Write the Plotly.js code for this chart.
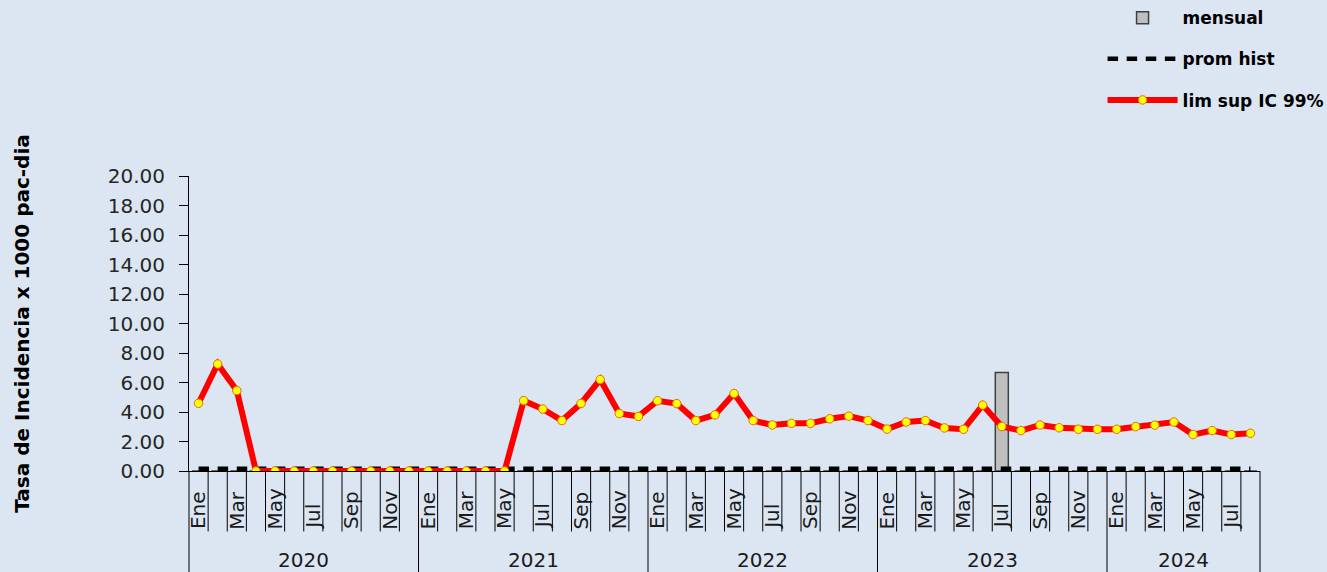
<!DOCTYPE html>
<html>
<head>
<meta charset="utf-8">
<script src="https://cdn.plot.ly/plotly-3.0.1.min.js"></script>
<style>
  html, body { margin: 0; padding: 0; background: #dce6f2; }
  #chart { width: 1327px; height: 572px; }
</style>
</head>
<body>
<div id="chart"></div>
<script>
// ---- data ----
const years = ["2020", "2021", "2022", "2023", "2024"];
const monthsPerYear = [12, 12, 12, 12, 8];
const monthNames = ["Ene", "Feb", "Mar", "Abr", "May", "Jun", "Jul", "Ago", "Sep", "Oct", "Nov", "Dic"];
const shownMonths = ["Ene", "Mar", "May", "Jul", "Sep", "Nov"];

const mensual = [
  0, 0, 0, 0, 0, 0, 0, 0, 0, 0, 0, 0,
  0, 0, 0, 0, 0, 0, 0, 0, 0, 0, 0, 0,
  0, 0, 0, 0, 0, 0, 0, 0, 0, 0, 0, 0,
  0, 0, 0, 0, 0, 0, 6.67, 0, 0, 0, 0, 0,
  0, 0, 0, 0, 0, 0, 0, 0
];
const promHist = [
  0.15, 0.15, 0.15, 0.15, 0.15, 0.15, 0.15, 0.15, 0.15, 0.15, 0.15, 0.15,
  0.15, 0.15, 0.15, 0.15, 0.15, 0.15, 0.15, 0.15, 0.15, 0.15, 0.15, 0.15,
  0.15, 0.15, 0.15, 0.15, 0.15, 0.15, 0.15, 0.15, 0.15, 0.15, 0.15, 0.15,
  0.15, 0.15, 0.15, 0.15, 0.15, 0.15, 0.15, 0.15, 0.15, 0.15, 0.15, 0.15,
  0.15, 0.15, 0.15, 0.15, 0.15, 0.15, 0.15, 0.15
];
const limSup = [
  4.59, 7.25, 5.45, 0, 0, 0, 0, 0, 0, 0, 0, 0,
  0, 0, 0, 0, 0, 4.77, 4.20, 3.42, 4.58, 6.20, 3.90, 3.70,
  4.76, 4.57, 3.42, 3.80, 5.25, 3.42, 3.12, 3.23, 3.23, 3.54, 3.72, 3.42,
  2.84, 3.32, 3.42, 2.92, 2.83, 4.47, 3.02, 2.74, 3.12, 2.93, 2.83, 2.83,
  2.83, 3.01, 3.11, 3.32, 2.47, 2.74, 2.47, 2.56
];

// ---- build category positions ----
const xIdx = [], monthLabel = [], yearStart = [];
let k = 0;
years.forEach((y, yi) => {
  yearStart.push(k);
  for (let m = 0; m < monthsPerYear[yi]; m++) {
    xIdx.push(k);
    monthLabel.push(monthNames[m]);
    k++;
  }
});
const nCat = k;

const WIDE = "'DejaVu Sans', Verdana, sans-serif";
const BG = "#dce6f2";

const traces = [
  {
    type: "bar", name: "mensual", x: xIdx, y: mensual,
    marker: { color: "#bfbfbf", line: { color: "#404040", width: 1.5 } },
    legendgroup: "g1", hoverinfo: "skip"
  },
  {
    type: "scatter", mode: "lines", name: "prom hist", x: xIdx, y: promHist,
    line: { color: "#000000", width: 4.5, dash: "10.5px,8.6px" },
    legendgroup: "g2", hoverinfo: "skip"
  },
  {
    type: "scatter", mode: "lines+markers", name: "lim sup IC 99%", x: xIdx, y: limSup,
    line: { color: "#ff0000", width: 6 },
    marker: { symbol: "circle", size: 8.5, color: "#ffff00", line: { color: "#e36c09", width: 1 } },
    legendgroup: "g3", hoverinfo: "skip"
  }
];

// ---- x-axis category furniture (labels & separators) ----
const annotations = [];
const shapes = [];
const monthBottom = -0.205;   // paper y of month box bottom
const yearBottom = -0.36;
xIdx.forEach((i) => {
  if (shownMonths.includes(monthLabel[i])) {
    annotations.push({
      x: i, xref: "x", y: monthBottom, yref: "paper",
      text: monthLabel[i], textangle: -90, showarrow: false,
      xanchor: "center", yanchor: "bottom",
      font: { family: WIDE, size: 20, color: "#1a1a1a" }
    });
  }
  if (i > 0) {
    const isYear = yearStart.includes(i);
    shapes.push({
      type: "line", xref: "x", yref: "paper",
      x0: i - 0.5, x1: i - 0.5, y0: 0, y1: isYear ? yearBottom : monthBottom,
      line: { color: "#000000", width: 1 }
    });
  }
});
// outer edges of the category table
[0, 1].forEach((px) => {
  shapes.push({
    type: "line", xref: "paper", yref: "paper",
    x0: px, x1: px, y0: 0, y1: yearBottom,
    line: { color: "#000000", width: 1 }
  });
});
years.forEach((y, yi) => {
  const s = yearStart[yi];
  const center = s + (monthsPerYear[yi] - 1) / 2;
  annotations.push({
    x: center, xref: "x", y: -0.302, yref: "paper",
    text: y, showarrow: false, xanchor: "center", yanchor: "middle",
    font: { family: WIDE, size: 20, color: "#1a1a1a" }
  });
});

const layout = {
  width: 1327, height: 572,
  paper_bgcolor: BG, plot_bgcolor: BG,
  margin: { l: 189, r: 67, t: 176, b: 101, autoexpand: false },
  bargap: 0.32,
  showlegend: true,
  legend: {
    x: 0.853, y: 1.596, xanchor: "left", yanchor: "top",
    traceorder: "grouped", tracegroupgap: 16,
    bgcolor: "rgba(0,0,0,0)", itemwidth: 70,
    font: { family: WIDE, size: 17, color: "#000000", weight: "bold" }
  },
  xaxis: {
    type: "linear", range: [-0.5, nCat - 0.5],
    showline: true, linecolor: "#000000", linewidth: 1,
    showgrid: false, zeroline: false, ticks: "", showticklabels: false,
    fixedrange: true
  },
  yaxis: {
    range: [0, 20], dtick: 2, tickformat: ".2f",
    showline: true, linecolor: "#000000", linewidth: 1,
    ticks: "outside", ticklen: 9, tickcolor: "#000000",
    ticklabelstandoff: 10,
    showgrid: false, zeroline: false,
    tickfont: { family: WIDE, size: 20, color: "#262626" },
    title: {
      text: "Tasa de Incidencia x 1000 pac-dia",
      font: { family: WIDE, size: 20, color: "#000000", weight: "bold" },
      standoff: 72
    },
    fixedrange: true
  },
  annotations: annotations,
  shapes: shapes
};

Plotly.newPlot("chart", traces, layout, { displayModeBar: false, staticPlot: true });
</script>
</body>
</html>
